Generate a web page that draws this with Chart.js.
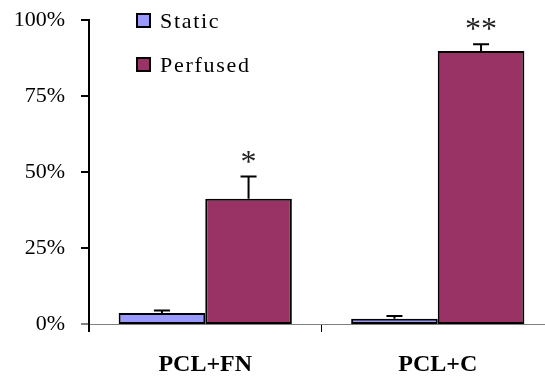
<!DOCTYPE html>
<html>
<head>
<meta charset="utf-8">
<script src="https://cdn.jsdelivr.net/npm/chart.js@4.4.0/dist/chart.umd.min.js"></script>
<style>
  html, body { margin: 0; padding: 0; background: #fff; overflow: hidden; }
  #wrap { width: 545px; height: 379px; overflow: hidden; }
</style>
</head>
<body>
<div id="wrap"><canvas id="chart" width="554" height="379"></canvas></div>
<script>
// ---- data ----
const categories = ['PCL+FN', 'PCL+C'];
const staticValues = [3.6, 1.75];
const staticErrors = [0.8, 0.85];
const perfusedValues = [41.2, 89.8];
const perfusedErrors = [7.3, 2.2];
const significance = ['*', '**'];
const yTickValues = [0, 25, 50, 75, 100];

const STATIC_COLOR = '#9999ff';
const PERFUSED_COLOR = '#993366';
const SERIF = '"Liberation Serif", "Times New Roman", serif';

// y axis line and its outside tick marks
const yAxisPlugin = {
    id: 'yAxisLine',
    afterDraw(chart) {
        const ctx = chart.ctx;
        const area = chart.chartArea;
        const yScale = chart.scales.y;
        const x = Math.round(area.left);
        ctx.save();
        ctx.lineWidth = 2;
        yTickValues.forEach(v => {
            const py = Math.round(yScale.getPixelForValue(v));
            ctx.strokeStyle = v === 0 ? '#808080' : '#000';
            ctx.beginPath();
            ctx.moveTo(x - 8, py);
            ctx.lineTo(x, py);
            ctx.stroke();
        });
        ctx.strokeStyle = '#000';
        ctx.beginPath();
        ctx.moveTo(x, area.top - 1);
        ctx.lineTo(x, area.bottom + 8);
        ctx.stroke();
        ctx.restore();
    }
};

// error bars + significance stars, placed via the y scale
const errorBarPlugin = {
    id: 'errorBars',
    afterDatasetsDraw(chart) {
        const ctx = chart.ctx;
        const yScale = chart.scales.y;
        chart.data.datasets.forEach((ds, i) => {
            const meta = chart.getDatasetMeta(i);
            meta.data.forEach((bar, j) => {
                const top = yScale.getPixelForValue(ds.data[j] + ds.errors[j]);
                ctx.save();
                ctx.strokeStyle = '#000';
                ctx.lineWidth = 2;
                ctx.beginPath();
                ctx.moveTo(bar.x, bar.y);
                ctx.lineTo(bar.x, top);
                ctx.moveTo(bar.x - 8, top);
                ctx.lineTo(bar.x + 8, top);
                ctx.stroke();
                if (ds.stars) {
                    ctx.fillStyle = '#222';
                    ctx.font = '32px ' + SERIF;
                    ctx.textAlign = 'center';
                    ctx.textBaseline = 'alphabetic';
                    ctx.fillText(ds.stars[j], bar.x, top - 5);
                }
                ctx.restore();
            });
        });
    }
};

// legend drawn inside the plot, top left
const legendPlugin = {
    id: 'insideLegend',
    afterDraw(chart) {
        const ctx = chart.ctx;
        ctx.save();
        chart.data.datasets.forEach((ds, i) => {
            const y = 21 + i * 44;
            ctx.fillStyle = ds.backgroundColor;
            ctx.fillRect(137, y - 7, 13, 13);
            ctx.strokeStyle = '#000';
            ctx.lineWidth = 2;
            ctx.strokeRect(137, y - 7, 13, 13);
            ctx.fillStyle = '#000';
            ctx.font = '22px ' + SERIF;
            ctx.letterSpacing = '1.7px';
            ctx.textAlign = 'left';
            ctx.textBaseline = 'middle';
            ctx.fillText(ds.label, 160, y + 1);
        });
        ctx.restore();
    }
};

new Chart(document.getElementById('chart'), {
    type: 'bar',
    data: {
        labels: categories,
        datasets: [
            { label: 'Static', data: staticValues, errors: staticErrors,
              backgroundColor: STATIC_COLOR, borderColor: '#000', borderWidth: 2, borderSkipped: false },
            { label: 'Perfused', data: perfusedValues, errors: perfusedErrors, stars: significance,
              backgroundColor: PERFUSED_COLOR, borderColor: '#000', borderWidth: 2, borderSkipped: false }
        ]
    },
    options: {
        responsive: false,
        animation: false,
        devicePixelRatio: 1,
        categoryPercentage: 0.745,
        barPercentage: 1,
        layout: { padding: { top: 20, left: 0, right: 0, bottom: 0 } },
        plugins: { legend: { display: false }, tooltip: { enabled: false } },
        scales: {
            x: {
                grid: { drawOnChartArea: false, drawTicks: true, tickLength: 8, color: '#000', offset: true },
                border: { color: '#808080', width: 1 },
                ticks: { color: '#000', padding: 18, font: { family: SERIF, size: 24, weight: 'bold' } },
                afterFit: s => { s.height = 55; }
            },
            y: {
                min: 0, max: 100,
                afterBuildTicks: s => { s.ticks = yTickValues.map(v => ({ value: v })); },
                grid: { display: false },
                border: { display: false },
                ticks: { color: '#000', padding: 16, font: { family: SERIF, size: 22 },
                         callback: v => v + '%' },
                afterFit: s => { s.width = 89; s.paddingTop = 0; s.paddingBottom = 0; }
            }
        }
    },
    plugins: [errorBarPlugin, yAxisPlugin, legendPlugin]
});
</script>
</body>
</html>
